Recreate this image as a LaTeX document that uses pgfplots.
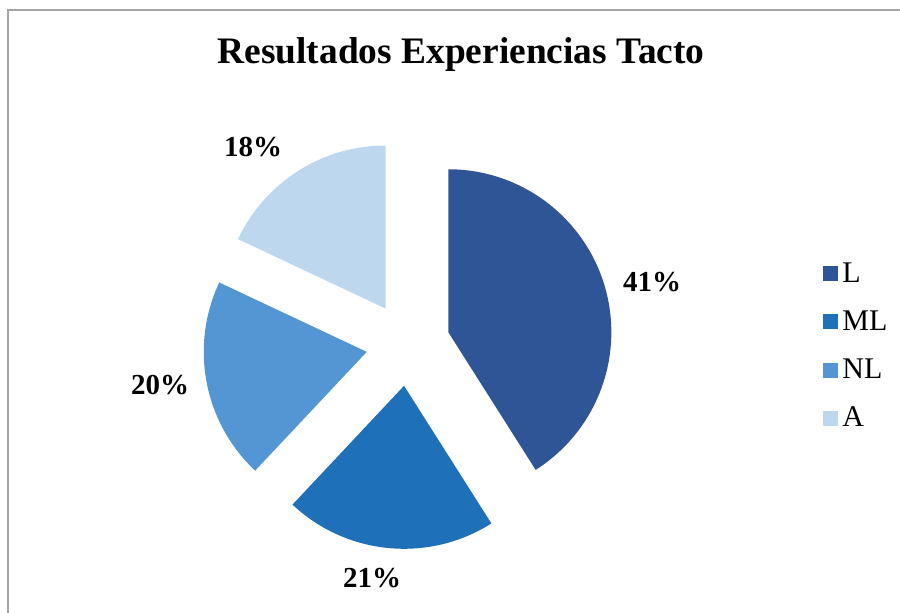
\documentclass[border=0pt]{standalone}
\usepackage{pgfplots}
\usepackage{pgfplotstable}
\pgfplotsset{compat=1.18}
\usepackage{fontspec}
\setmainfont{Liberation Serif}

\definecolor{colL}{RGB}{47,85,151}
\definecolor{colML}{RGB}{30,112,185}
\definecolor{colNL}{RGB}{84,150,211}
\definecolor{colA}{RGB}{189,215,238}
\definecolor{frame}{RGB}{165,165,165}

\pgfplotstableread{
name value
L 41
ML 21
NL 20
A 18
}\piedata

\begin{document}
\begin{tikzpicture}
% angles of the slices, from the table
\pgfplotstablegetelem{0}{value}\of\piedata \let\vL\pgfplotsretval
\pgfplotstablegetelem{1}{value}\of\piedata \let\vML\pgfplotsretval
\pgfplotstablegetelem{2}{value}\of\piedata \let\vNL\pgfplotsretval
\pgfplotstablegetelem{3}{value}\of\piedata \let\vA\pgfplotsretval
\pgfmathsetmacro\sL{90}
\pgfmathsetmacro\eL{\sL-3.6*\vL}
\pgfmathsetmacro\eML{\eL-3.6*\vML}
\pgfmathsetmacro\eNL{\eML-3.6*\vNL}
\pgfmathsetmacro\eA{\eNL-3.6*\vA}
\pgfmathsetmacro\mL{(\sL+\eL)/2}
\pgfmathsetmacro\mML{(\eL+\eML)/2}
\pgfmathsetmacro\mNL{(\eML+\eNL)/2}
\pgfmathsetmacro\mA{(\eNL+\eA)/2}
\def\cx{408}\def\cy{269}\def\ex{42}\def\rad{81.5pt}
\begin{axis}[
    name=ax,
    width=450pt, height=306.5pt,
    scale only axis,
    xmin=0, xmax=900, ymin=0, ymax=613,
    hide axis, clip=false,
    legend style={at={(axis cs:823,355)}, anchor=north west, draw=none,
        fill=none, font=\fontsize{15}{18}\selectfont, row sep=8.8pt,
        inner sep=0pt, cells={anchor=west}},
    legend image code/.code={\fill[draw=none,#1] (0pt,-3.75pt) rectangle (7.5pt,3.75pt);},
]
% frame
\draw[frame, line width=1pt] (axis cs:8,0) -- (axis cs:8,603) -- (axis cs:900,603);
% slices
\fill[colL] (axis cs:{\cx+\ex*cos(\mL)},{\cy+\ex*sin(\mL)}) -- ++(\sL:\rad) arc[start angle=\sL, end angle=\eL, radius=\rad] -- cycle;
\fill[colML] (axis cs:{\cx+\ex*cos(\mML)},{\cy+\ex*sin(\mML)}) -- ++(\eL:\rad) arc[start angle=\eL, end angle=\eML, radius=\rad] -- cycle;
\fill[colNL] (axis cs:{\cx+\ex*cos(\mNL)},{\cy+\ex*sin(\mNL)}) -- ++(\eML:\rad) arc[start angle=\eML, end angle=\eNL, radius=\rad] -- cycle;
\fill[colA] (axis cs:{\cx+\ex*cos(\mA)},{\cy+\ex*sin(\mA)}) -- ++(\eNL:\rad) arc[start angle=\eNL, end angle=\eA, radius=\rad] -- cycle;
% labels
\node[font=\fontsize{14.5}{16}\selectfont\bfseries] at (axis cs:652,331) {\vL\%};
\node[font=\fontsize{14.5}{16}\selectfont\bfseries] at (axis cs:372,35) {\vML\%};
\node[font=\fontsize{14.5}{16}\selectfont\bfseries] at (axis cs:160,228) {\vNL\%};
\node[font=\fontsize{14.5}{16}\selectfont\bfseries] at (axis cs:253,466) {\vA\%};
% title
\node[font=\fontsize{18.7}{22}\selectfont\bfseries] at (axis cs:461,558) {Resultados Experiencias Tacto};
% legend
\addlegendimage{fill=colL}\addlegendentry{L}
\addlegendimage{fill=colML}\addlegendentry{ML}
\addlegendimage{fill=colNL}\addlegendentry{NL}
\addlegendimage{fill=colA}\addlegendentry{A}
\end{axis}
\pgfresetboundingbox
\path[use as bounding box] (ax.south west) rectangle (ax.north east);
\end{tikzpicture}
\end{document}
